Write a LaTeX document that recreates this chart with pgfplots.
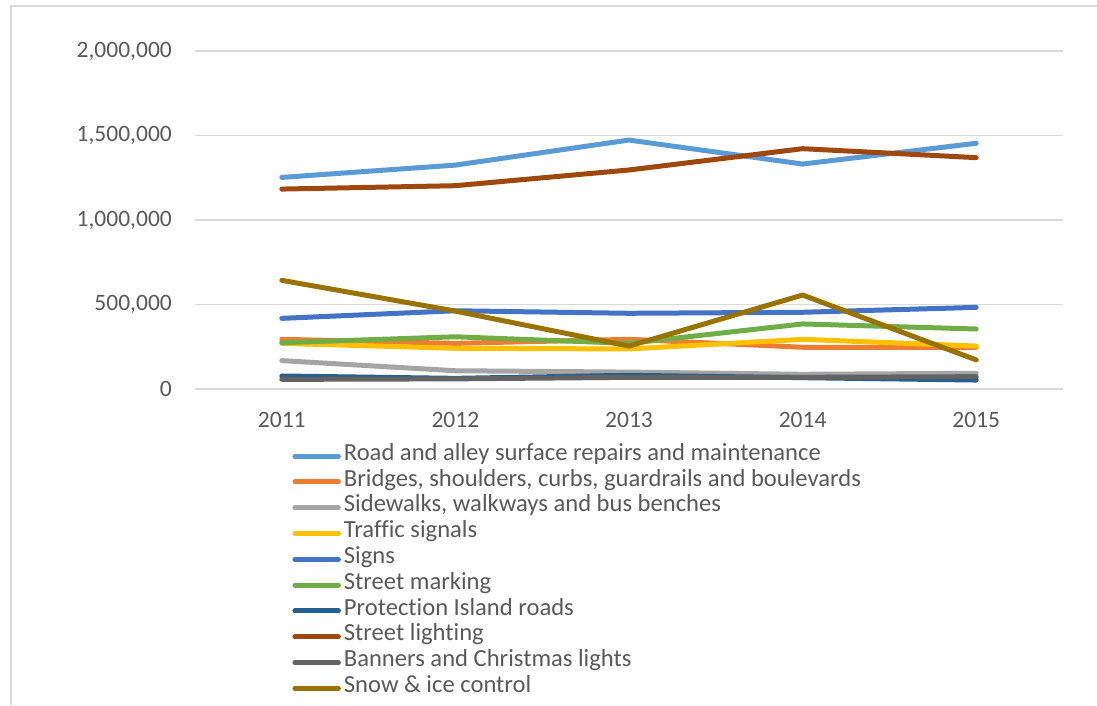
\documentclass[border=0pt]{standalone}
\usepackage{pgfplots}
\pgfplotsset{compat=1.18}
\usepackage{fontspec}
\setmainfont{Carlito}[Ligatures=NoCommon]
\definecolor{cRoad}{HTML}{5B9BD5}
\definecolor{cBridge}{HTML}{ED7D31}
\definecolor{cSide}{HTML}{A5A5A5}
\definecolor{cTraf}{HTML}{FFC000}
\definecolor{cSign}{HTML}{4472C4}
\definecolor{cMark}{HTML}{70AD47}
\definecolor{cProt}{HTML}{255E91}
\definecolor{cLight}{HTML}{9E480E}
\definecolor{cBann}{HTML}{636363}
\definecolor{cSnow}{HTML}{997300}
\definecolor{txtgray}{HTML}{595959}
\definecolor{gridgray}{HTML}{D9D9D9}
\begin{document}
\begin{tikzpicture}[x=1pt,y=1pt]
\useasboundingbox (0,0) rectangle (1097,705);
\draw[gridgray, line width=1.5pt] (11,0) -- (11,699) -- (1100,699);
\begin{axis}[
  at={(195pt,316pt)}, anchor=south west,
  scale only axis, width=868pt, height=338pt,
  xmin=2010.5, xmax=2015.5, ymin=0, ymax=2000000,
  xtick={2011,2012,2013,2014,2015},
  ytick={0,500000,1000000,1500000,2000000},
  scaled y ticks=false,
  /pgf/number format/assume math mode=true,
  xticklabel={\pgfmathprintnumber[fixed,1000 sep={}]{\tick}},
  yticklabel style={/pgf/number format/fixed,/pgf/number format/1000 sep={,}},
  ymajorgrids, grid style={gridgray, line width=1.5pt},
  axis line style={draw=none}, major tick style={draw=none},
  tick label style={font=\fontsize{23.5}{28}\selectfont, text=txtgray},
  yticklabel style={inner sep=0pt, xshift=-23pt},
  xticklabel style={inner sep=0pt, yshift=-23pt},
  clip=false,
  every axis plot/.append style={line width=5pt, line cap=round, line join=round},
  legend cell align=left,
  legend image code/.code={\draw[#1, line width=5pt, line cap=round] (2.5pt,0pt) -- (46pt,0pt);},
  legend style={at={(0.112,-0.160)}, anchor=north west, draw=none, fill=none,
    inner sep=0pt, row sep=0pt, text=txtgray,
    font=\fontsize{24.6}{28}\selectfont,
    nodes={inner sep=0pt, text height=17pt, text depth=8.8pt},
    /tikz/every even column/.append style={column sep=3pt},
    /tikz/every odd column/.append style={column sep=3pt}},
]
\addplot[cRoad] coordinates {(2011,1252000)(2012,1325000)(2013,1473000)(2014,1331000)(2015,1454000)};
\addlegendentry{Road and alley surface repairs and maintenance}
\addplot[cBridge] coordinates {(2011,294000)(2012,270000)(2013,294000)(2014,247000)(2015,247000)};
\addlegendentry{Bridges, shoulders, curbs, guardrails and boulevards}
\addplot[cSide] coordinates {(2011,168000)(2012,108000)(2013,100000)(2014,87000)(2015,93000)};
\addlegendentry{Sidewalks, walkways and bus benches}
\addplot[cTraf] coordinates {(2011,270000)(2012,241000)(2013,237000)(2014,294000)(2015,254000)};
\addlegendentry{Traffic signals}
\addplot[cSign] coordinates {(2011,418000)(2012,463000)(2013,448000)(2014,454000)(2015,483000)};
\addlegendentry{Signs}
\addplot[cMark] coordinates {(2011,274000)(2012,309000)(2013,270000)(2014,385000)(2015,355000)};
\addlegendentry{Street marking}
\addplot[cProt] coordinates {(2011,77000)(2012,63000)(2013,81000)(2014,67000)(2015,53000)};
\addlegendentry{Protection Island roads}
\addplot[cLight] coordinates {(2011,1183000)(2012,1203000)(2013,1296000)(2014,1422000)(2015,1369000)};
\addlegendentry{Street lighting}
\addplot[cBann] coordinates {(2011,57000)(2012,60000)(2013,69000)(2014,69000)(2015,73000)};
\addlegendentry{Banners and Christmas lights}
\addplot[cSnow] coordinates {(2011,643000)(2012,461000)(2013,254000)(2014,556000)(2015,172000)};
\addlegendentry{Snow \& ice control}
\end{axis}
\end{tikzpicture}
\end{document}
